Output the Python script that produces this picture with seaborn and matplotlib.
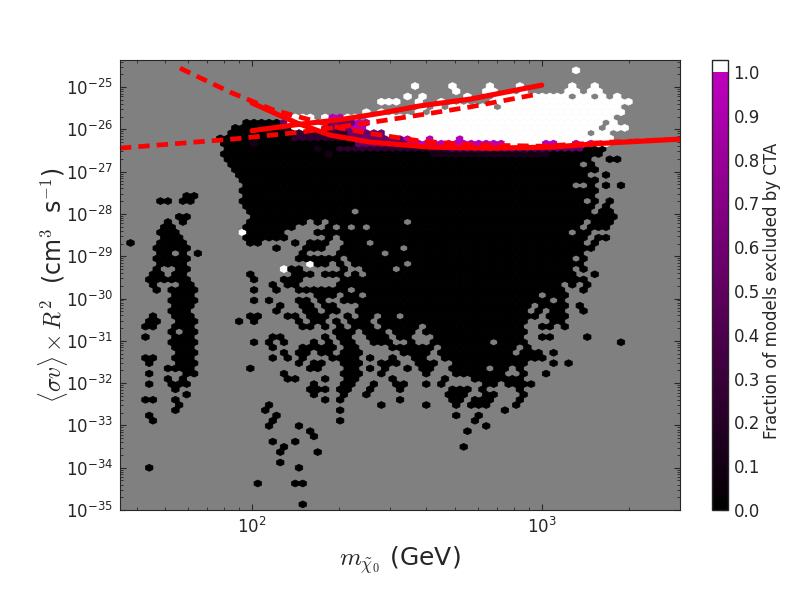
import numpy as np
import matplotlib
matplotlib.use("Agg")
import matplotlib.pyplot as plt
import seaborn as sns
from matplotlib.colors import LinearSegmentedColormap
from matplotlib.ticker import LogLocator, NullFormatter

sns.set_style("ticks")
plt.rcParams["font.family"] = "DejaVu Sans"
plt.rcParams["mathtext.fontset"] = "cm"

# Hex grid: row 0 is the top row, cells are "first-last" columns
row0_log_sigma = -24.6052
row_step = 0.12364
col0_log_mass = 1.5803
col_step = 0.025848

black_rows = {
    10: "15-19", 11: "14-21", 12: "13-33", 13: "12-36", 14: "12-36", 15: "13-35 61-63",
    16: "12-62", 17: "13-61 64 65", 18: "13-59 61", 19: "14-62", 20: "14-60 63",
    21: "15-62", 22: "15-58 61 63 65", 23: "15-62", 24: "7 8 15-61",
    25: "4 5 7 8 15-60 62 64", 26: "15-61 63", 27: "16-29 31-61 63 64", 28: "6 7 16-64",
    29: "5 7 16-23 25 27-36 38-60 62-64", 30: "4 5 15-21 26 28 30 32-59 61-63",
    31: "4-6 16-20 25-58 60 61", 32: "4-6 15-20 26 28-60 62 63",
    33: "0 4-7 16 17 22 24-26 29-31 33-60 62", 34: "3-7 19 23-25 28-35 37-61",
    35: "4 5 7 9 23 28-33 35-60", 36: "3-7 22-27 29-58 60",
    37: "4-7 25 26 28 30-36 38-60", 38: "3 6 7 21 22 28 31-34 36-58 60",
    39: "3 4 6 7 16 22-24 26-28 30 32-59 62", 40: "2-7 16 20-22 28-60",
    41: "3 7 8 19 21 22 28-57 59 61", 42: "3 5-8 16 19 22-28 30-57 60",
    43: "6-8 25-27 29 30 32-54 56-58", 44: "5-8 16 18 22 23 25 28-55 57",
    45: "6-8 20 23 24 26 27 31-53 55-58 60", 46: "5-7 19 23 24 26 27 30-52 54 56 57 60",
    47: "3 6-8 16 17 21 22 24-26 29 31 32 34 35 37-54 56-58",
    48: "2 3 6-8 14 16 22 24 25 27 29-31 33-52 56 57",
    49: "2 3 6-8 23 24 26 28 30-32 34-38 40-52 55 56 58",
    50: "5 7 8 27-29 31-33 35-37 39-52", 51: "2 6-8 19 20 26 28 29 32-34 36 37 41-52 55 56 61",
    52: "5-8 16 18 20 24 26 28 29 32-34 37 40-47 49-52 65",
    53: "6-8 19 23-27 29 30 35-40 42-51 53", 54: "6-8 20 22 23 25 26 28-30 36-39 41-50 52-54 56",
    55: "2 3 6-8 19 21 23 27-30 32 35 38 39 42-55", 56: "2 6-8 22 24 25 28-30 33-35 38-40 43-52 56 58",
    57: "5-8 16 24 25 29 30 32 34 37 39 40 43-47 49 50 52", 58: "2 7 8 20 28-30 33 39 43-49 52 55",
    59: "5 7 21 22 26 29 30 35 42 46-52", 60: "2 5-7 24 28 29 32 35 36 39 41 47 48 50-53",
    61: "6 24-26 28 29 32 36 43-45 47 52", 62: "7 24 28 31 42-44 47 48 52",
    63: "2 3 6 26 28 36 43 44 46-48 52", 64: "6 18 33 39 43 45-47 51", 65: "6 18 28 50",
    66: "2 19 43 46", 67: "3 19 28 46", 68: "18 22 47", 69: "24 45", 70: "24", 71: "19 22",
    72: "20 44", 73: "20 25", 75: "20", 76: "2 22", 79: "17 22 23", 83: "23",
}
faint_rows = {14: "16", 15: "25", 16: "26 40-55"}
dark_rows = {11: "20 21", 12: "22-28", 13: "22-29", 15: "28-35 36-42"}
purple_rows = {10: "20 26-29", 11: "26-29", 12: "29-33", 13: "30-36", 14: "30-36", 15: "43-60"}
magenta_rows = {9: "27 28", 10: "30 31", 11: "30 31", 13: "37 40 44", 14: "37-49 55 56 59 61"}
white_rows = {
    0: "59", 3: "38 43 48 52 59 62", 4: "43 47 48 52 58 59 61 62",
    5: "37 39 45 49-58 60 61 63 65", 6: "33-35 38 41 48-66", 7: "39 41 43-48 50-65",
    8: "31 33 38 40-65", 9: "22-24 26 29 30 32-64", 10: "21-25 32-62 64",
    11: "22-25 32-62 64-66", 12: "34-60 62 63", 13: "38 39 41-43 45-64",
    14: "50-54 57 58 60 62 63", 31: "15", 37: "24", 38: "20",
}

# fraction excluded for each group of cells, white means above the colour scale
faint_frac = 0.12
dark_frac = 0.25
purple_frac = 0.55
magenta_frac = 0.95
white_frac = 1.01

# CTA limit curves
solid_up_mass = [100, 147, 202, 277, 381, 567, 781, 1000]
solid_up_sigma = [9.3e-27, 1.33e-26, 1.7e-26, 2.4e-26, 3.6e-26, 5.2e-26, 8.0e-26, 1.11e-25]
solid_down_mass = [100, 120, 143, 186, 256, 413, 667, 1074, 1640, 3027]
solid_down_sigma = [4.2e-26, 2.4e-26, 1.41e-26, 7.3e-27, 5.0e-27, 3.8e-27, 3.6e-27, 3.8e-27, 4.7e-27, 5.9e-27]
dash_down_mass = [56.4, 83.9, 118, 155, 202, 262, 381, 567, 1000, 1734, 3027]
dash_down_sigma = [2.8e-25, 7.6e-26, 2.9e-26, 1.75e-26, 1.07e-26, 7.8e-27, 5.3e-27, 4.3e-27, 4.0e-27, 5.0e-27, 5.9e-27]
dash_up_mass = [35, 86, 147, 250, 381, 567, 968]
dash_up_sigma = [3.6e-27, 5.9e-27, 8.6e-27, 1.41e-26, 2.2e-26, 3.4e-26, 6.8e-26]

y_ticks = [1e-35, 1e-34, 1e-33, 1e-32, 1e-31, 1e-30, 1e-29, 1e-28, 1e-27, 1e-26, 1e-25]


def add_cells(cells, rows, frac):
    for row, txt in rows.items():
        for part in txt.split():
            first, _, last = part.partition("-")
            for col in range(int(first), int(last or first) + 1):
                cells[(row, col)] = frac


cells = {}
add_cells(cells, black_rows, 0.0)
add_cells(cells, faint_rows, faint_frac)
add_cells(cells, dark_rows, dark_frac)
add_cells(cells, purple_rows, purple_frac)
add_cells(cells, magenta_rows, magenta_frac)
add_cells(cells, white_rows, white_frac)

mass, sigma, frac = [], [], []
for (row, col), value in cells.items():
    # even rows sit half a cell to the right
    shift = 0.5 if row % 2 == 0 else 0.0
    mass.append(10 ** (col0_log_mass + (col + shift) * col_step))
    sigma.append(10 ** (row0_log_sigma - row * row_step))
    frac.append(value)

cmap = LinearSegmentedColormap.from_list("cta", ["black", (0.75, 0, 0.75)])
cmap.set_over("white")

fig = plt.figure(figsize=(8, 6), dpi=100)
ax = fig.add_axes([0.15, 0.15, 0.70, 0.75])
ax.set_facecolor("#808080")

nx, ny = 72, 42
log_y_low = row0_log_sigma - 83 * row_step
hb = ax.hexbin(mass, sigma, C=frac, gridsize=(nx, ny), xscale="log", yscale="log",
               extent=(col0_log_mass, col0_log_mass + nx * col_step,
                       log_y_low, log_y_low + ny * 2 * row_step),
               reduce_C_function=np.mean, cmap=cmap, vmin=0, vmax=1, linewidths=0.5)

solid_kw = dict(color="red", linewidth=3.7, estimator=None, sort=False, ax=ax)
dash_kw = dict(color="red", linewidth=3.4, estimator=None, sort=False, ax=ax,
               linestyle=(0, (2.4, 1.5)), dash_capstyle="butt")
sns.lineplot(x=solid_up_mass, y=solid_up_sigma, **solid_kw)
sns.lineplot(x=solid_down_mass, y=solid_down_sigma, **solid_kw)
sns.lineplot(x=dash_down_mass, y=dash_down_sigma, **dash_kw)
sns.lineplot(x=dash_up_mass, y=dash_up_sigma, **dash_kw)

ax.set_xlim(35, 3000)
ax.set_ylim(1e-35, 10 ** -24.36)
ax.set_yticks(y_ticks)
ax.yaxis.set_minor_locator(LogLocator(base=10, subs=range(2, 10), numticks=15))
ax.yaxis.set_minor_formatter(NullFormatter())
ax.xaxis.set_minor_formatter(NullFormatter())
ax.tick_params(which="major", direction="in", top=True, right=True, length=4, width=0.8, labelsize=12, pad=5)
ax.tick_params(which="minor", direction="in", top=True, right=True, length=2, width=0.6)
ax.set_xlabel(r"$m_{\tilde{\chi}_0}$ (GeV)", fontsize=18, labelpad=5)
ax.set_ylabel(r"$\langle\sigma v\rangle\times R^2$  (cm$^3$  s$^{-1}$)", fontsize=17, labelpad=-3)

cax = fig.add_axes([0.89, 0.15, 0.02, 0.75])
cbar = fig.colorbar(hb, cax=cax, extend="max", extendrect=True, extendfrac=0.0274,
                    ticks=np.arange(0, 1.01, 0.1))
cbar.ax.tick_params(direction="in", length=5, width=0.8, labelsize=12, pad=4)
cbar.set_label("Fraction of models excluded by CTA", fontsize=12, labelpad=2)
cbar.outline.set_linewidth(1)

fig.savefig("out.png", dpi=100, facecolor="white")
